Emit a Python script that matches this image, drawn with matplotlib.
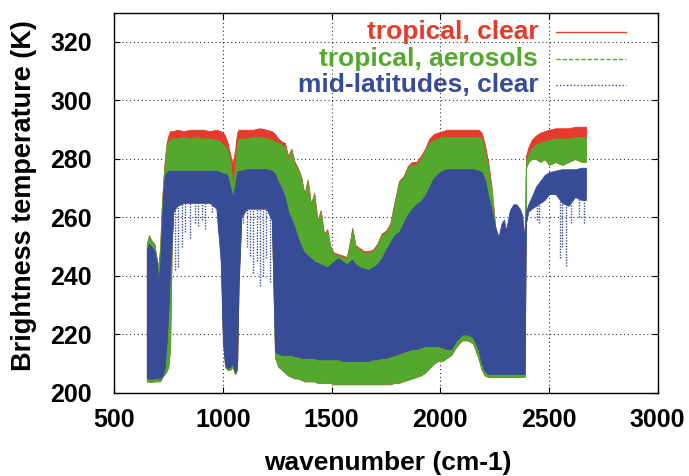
import numpy as np
import matplotlib
matplotlib.use("Agg")
import matplotlib.pyplot as plt
from matplotlib.lines import Line2D

# ---------------- data ----------------
# wavenumber samples (cm-1) of the spectral envelopes
wn = [650, 660, 672, 685, 695, 703, 711, 718, 726, 733, 741, 749, 757, 765, 772,
      790, 820, 850, 880, 910, 940, 970, 990, 1000, 1010, 1020, 1035, 1045, 1056,
      1065, 1072, 1085, 1110, 1140, 1170, 1200, 1225, 1240, 1255, 1270, 1285, 1300,
      1315, 1330, 1345, 1360, 1375, 1390, 1405, 1420, 1435, 1450, 1465, 1480, 1495,
      1510, 1530, 1550, 1570, 1585, 1595, 1610, 1630, 1650, 1670, 1690, 1710, 1730,
      1750, 1770, 1790, 1810, 1830, 1850, 1870, 1890, 1910, 1930, 1950, 1970, 1990,
      2010, 2030, 2050, 2075, 2100, 2125, 2150, 2175, 2190, 2205, 2220, 2235, 2250,
      2260, 2268, 2282, 2293, 2302, 2320, 2336, 2350, 2365, 2376, 2385, 2388, 2394,
      2405, 2420, 2440, 2460, 2480, 2500, 2530, 2560, 2590, 2620, 2650, 2670]

# tropical, clear : upper envelope of brightness temperature (K)
red_hi = [251, 254, 252, 251, 246, 243, 249.5, 262.5, 273, 280, 285.5, 288, 289.5, 289.5, 289.5,
          290, 289.5, 290, 290, 290, 289.5, 290, 289.5, 289, 288, 286, 281, 278.5, 283,
          289, 290, 290, 290, 290, 290.5, 290, 289.5, 288.5, 287, 286, 285.5, 281,
          283.5, 279, 277, 274, 268, 273, 264.5, 268.5, 259, 262.5, 254.5, 256, 250,
          248, 247.5, 247, 246.5, 252, 256.5, 250.5, 249.5, 248.5, 248.5, 249, 251, 254.5,
          255.5, 258, 265.5, 272.5, 274, 277.5, 279, 279, 281, 283.5, 287, 288.5, 289,
          289.5, 290, 290, 290, 290, 290, 290, 290, 289, 285, 279, 271, 259,
          251, 248.5, 245, 244.5, 243.5, 243.5, 243.5, 243.5, 243.5, 243.5, 243.5, 244, 281,
          284, 286.5, 288, 289, 289.5, 290, 290.5, 290.5, 290.5, 291, 291, 291]

# tropical, aerosols : upper and lower envelopes (K)
green_hi = [251, 253.5, 252, 250.5, 246, 242.5, 249, 262, 272, 279, 284.5, 286, 286.5, 287, 287,
            287, 287.5, 287, 287.5, 287, 287, 286.5, 286, 285, 284.5, 283, 279, 270, 277,
            285, 287, 287, 287, 287.5, 287.5, 287, 286.5, 286, 285.5, 285, 284, 280,
            283, 278, 276.5, 273.5, 267.5, 272.5, 264, 268, 258.5, 262, 254, 255.5, 249.5,
            247.5, 247, 246.5, 246, 251.5, 256, 250, 249, 248, 248, 248.5, 250.5, 254,
            255, 257.5, 265, 272, 273.5, 277, 278, 278, 280, 283, 285.5, 286.5, 287,
            287.5, 287.5, 287.5, 287.5, 287.5, 287.5, 287.5, 287.5, 287, 283, 277, 270, 258.5,
            250.5, 248, 244.5, 244, 243, 243, 243, 243, 243, 243, 243, 243, 279,
            281.5, 283.5, 285, 285.5, 286, 286.5, 287, 287, 287, 287.5, 287.5, 287.5]
green_lo = [204, 203.8, 203.8, 204, 204, 204, 204, 205, 206, 206.5, 207.5, 209, 215, 252, 263,
            266, 267, 267, 267, 267, 267, 265, 250, 220, 209, 208, 208, 209, 206.5,
            208, 238, 262, 265, 265, 265, 265, 261, 212, 209, 208, 207, 206,
            205.5, 205, 205, 204.5, 204, 204, 204, 204, 203.5, 203.5, 203.5, 203.5, 203.5,
            203, 203, 203, 203, 203, 203, 203, 203, 203, 203, 203, 203, 203,
            203, 203, 203.5, 203.5, 204, 204.5, 205, 205.5, 206, 207, 208.5, 210, 211,
            211, 212, 213, 216, 218, 218, 217, 212, 208, 206, 205.5, 205.5, 205.5,
            205.5, 205.5, 205.5, 205.5, 205.5, 205.5, 205.5, 205.5, 205.5, 205.5, 205.5, 205.5, 277,
            279, 280, 280, 279, 280, 278, 279, 278, 279, 280, 279, 279]
# the lower envelope of "tropical, clear" cannot be told apart from the aerosol one
red_lo = green_lo

# mid-latitudes, clear : upper and lower envelopes (K)
blue_hi = [249, 251, 250, 248.5, 245, 238, 244, 256, 269, 274.5, 275.5, 276, 276, 276, 276,
           276, 276, 276, 276, 276, 276, 276, 275.5, 275, 275, 274.5, 270, 267, 271,
           275.5, 276, 276, 276.5, 276.5, 276.5, 276.5, 276, 275, 272, 270, 267, 262,
           259.5, 256.5, 253, 250, 248, 247, 246, 245, 244.5, 244, 243.5, 243, 244,
           245, 246, 245, 244, 245, 245.5, 244, 243, 242.5, 242, 243, 244, 246,
           249, 251.5, 254, 255, 258, 261, 263, 264.5, 265.5, 267.5, 270.5, 273.5, 275,
           276, 276.5, 276.5, 276.5, 276.5, 276.5, 276.5, 276, 275.5, 273, 267.5, 263, 257.5,
           255, 253.5, 258, 259.3, 255.5, 262.5, 264.5, 264.5, 263, 261, 255, 254, 262,
           264.5, 267, 270.5, 272.5, 274.5, 275.5, 276, 276.5, 276.5, 276.5, 277, 277]
blue_lo = [205, 205, 204.8, 205, 205, 205, 205, 205.5, 206.7, 209, 217, 228, 242, 252, 262,
           264, 265, 265, 265, 265, 265, 263, 245, 217, 210, 208.5, 209, 210, 207,
           209, 236, 260, 263, 263, 263, 263, 259, 214, 213.5, 213, 213, 213,
           213, 212.5, 212.5, 212, 212, 212, 212, 212, 211.5, 211.5, 211.5, 211.5, 211.5,
           211.5, 211.5, 211, 211, 211, 211, 211, 211, 211, 211, 211.5, 211.5, 212,
           212, 212.5, 213, 213.5, 214, 214.5, 215, 215, 215.5, 216, 216, 216, 216,
           215.5, 215, 215, 218, 220, 220, 219, 215, 210, 207.5, 206.5, 206.5, 206.5,
           206.5, 206.5, 206.5, 206.5, 206.5, 206.5, 206.5, 206.5, 206.5, 206.5, 206.5, 206.5, 258,
           262, 263, 264, 265, 266, 268, 268, 265, 264, 267, 266, 266]

# isolated deep lines of the mid-latitude spectrum (wavenumber, lowest K)
blue_spike_wn = [780, 795, 810, 826, 849, 872, 887, 902, 918, 948, 979, 1094, 1109, 1125,
                 1140, 1155, 1171, 1186, 1200, 1217, 2443, 2455, 2550, 2560, 2580, 2600, 2640, 2660]
blue_spike_lo = [242, 243, 250, 255, 253, 258, 257, 259, 256, 262, 259, 258, 250, 247,
                 241, 245, 236.5, 240, 246, 238, 259, 258, 246, 250, 243.5, 258, 260, 258]

labels = ["tropical, clear", "tropical, aerosols", "mid-latitudes, clear"]
xticks = [500, 1000, 1500, 2000, 2500, 3000]
yticks = [200, 220, 240, 260, 280, 300, 320]

# ---------------- style ----------------
RED = "#E53B2C"
GREEN = "#55A82E"
BLUE = "#384B97"
FONT = ["Liberation Sans", "DejaVu Sans"]
plt.rcParams["font.family"] = FONT
plt.rcParams["font.weight"] = "bold"

W, H = 689, 476
fig = plt.figure(figsize=(W / 100, H / 100), dpi=100)
ax = fig.add_axes([114.2 / W, 1 - 393 / H, 543.5 / W, (393 - 12.7) / H])

ax.fill_between(wn, red_lo, red_hi, facecolor=RED, edgecolor=RED, lw=0.6, zorder=2)
ax.fill_between(wn, green_lo, green_hi, facecolor=GREEN, edgecolor=GREEN, lw=0.6, zorder=3)
ax.fill_between(wn, blue_lo, blue_hi, facecolor=BLUE, edgecolor=BLUE, lw=0.6, zorder=4)
spike_top = np.interp(blue_spike_wn, wn, blue_lo)
ax.vlines(blue_spike_wn, blue_spike_lo, spike_top, colors=BLUE, lw=1.0,
          linestyles=(0, (1, 1)), zorder=4)

ax.set_xlim(500, 3000)
ax.set_ylim(200, 330)
ax.set_xticks(xticks)
ax.set_yticks(yticks)
ax.tick_params(direction="in", length=4, width=0.8, top=True, right=True,
               labelsize=18)
ax.tick_params(axis="x", pad=11)
ax.tick_params(axis="y", pad=16)
for lab in ax.get_xticklabels() + ax.get_yticklabels():
    lab.set_fontweight("bold")
ax.grid(True, color="black", lw=0.8, linestyle=(0, (1, 2.5)), alpha=0.8)
ax.set_axisbelow(True)
for s in ax.spines.values():
    s.set_linewidth(1.0)

# axis titles placed at the reference pixel positions
fig.text(388 / W, 1 - 463 / H, "wavenumber (cm-1)", ha="center", va="center",
         fontsize=19, fontweight="bold")
fig.text(24 / W, 1 - 196 / H, "Brightness temperature (K)", ha="center", va="center",
         rotation=90, fontsize=19.5, fontweight="bold")

# gnuplot-style key in the top right corner
rows_y = [0.949, 0.878, 0.810]
styles = ["-", (0, (3, 1.5)), (0, (1, 1.5))]
for lbl, c, yy, ls in zip(labels, [RED, GREEN, BLUE], rows_y, styles):
    ax.text(0.780, yy, lbl, transform=ax.transAxes, ha="right", va="center",
            color=c, fontsize=19, fontweight="bold", zorder=6)
    ax.add_line(Line2D([0.813, 0.942], [yy, yy], transform=ax.transAxes,
                       color=c, lw=1.0, linestyle=ls, zorder=6))

fig.savefig("out.png", dpi=100)
